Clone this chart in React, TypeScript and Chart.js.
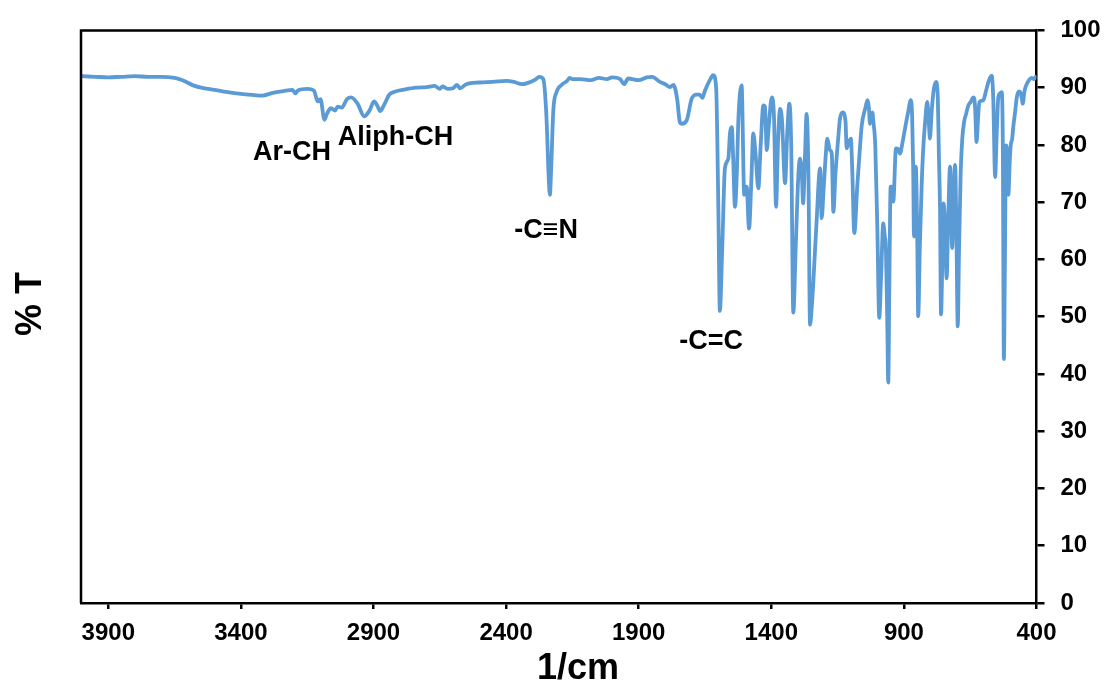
import React, { useEffect, useRef } from "react";
import { Chart, registerables } from "chart.js";

Chart.register(...registerables);

// Wavenumbers (1/cm) and transmittance (%T)
const wavenumbers: number[] = [
  4000, 3950, 3900, 3850, 3800, 3750, 3700, 3650, 3620, 3580, 3550, 3500, 3450, 3400, 3350, 3320,
  3280, 3240, 3205, 3195, 3185, 3150, 3125, 3110, 3100, 3085, 3075, 3060, 3045, 3035, 3020, 3000,
  2985, 2960, 2935, 2915, 2898, 2885, 2875, 2860, 2840, 2820, 2780, 2740, 2700, 2670, 2650, 2640,
  2620, 2600, 2585, 2574, 2550, 2500, 2450, 2400, 2370, 2340, 2320, 2290, 2275, 2260, 2248, 2240,
  2235, 2230, 2222, 2210, 2190, 2170, 2160, 2150, 2120, 2080, 2050, 2020, 2000, 1970, 1955, 1940,
  1900, 1870, 1850, 1820, 1800, 1782, 1769, 1755, 1745, 1738, 1719, 1700, 1681, 1670, 1660, 1650,
  1630, 1619, 1608, 1600, 1594, 1585, 1575, 1562, 1556, 1549, 1544, 1537, 1530, 1524, 1512,
  1502, 1493, 1484, 1475, 1468, 1459, 1449, 1440, 1430, 1424, 1417, 1410, 1398, 1390,
  1382, 1375, 1367, 1360, 1348, 1340, 1332, 1325, 1317, 1308, 1298, 1292, 1285, 1280, 1273, 1267,
  1260, 1254, 1247, 1242, 1230, 1216, 1210, 1203, 1195, 1189, 1179, 1172, 1166, 1158, 1148, 1141,
  1131, 1120, 1116, 1110, 1100, 1095, 1087, 1076, 1065, 1059, 1045, 1037, 1032, 1028, 1019, 1015,
  1008, 1000, 993, 986, 978, 972, 968, 963, 959, 955, 950, 946, 940, 930, 922, 915,
  905, 896, 885, 874, 869, 865, 862, 857, 855, 850, 846, 840, 833, 827, 820, 812,
  806, 802, 795, 788, 779, 772, 768, 764, 760, 755, 751, 745, 739, 733, 726, 722,
  718, 712, 707, 702, 697, 692, 686, 680, 673, 665, 657, 648, 638, 632, 626, 620,
  615, 601, 590, 580, 569, 563, 556, 550, 544, 537, 531, 527, 523, 519, 515, 510,
  506, 501, 497, 492, 487, 480, 475, 468, 462, 455, 452, 445, 437, 430, 418, 410,
  400,
];

const transmittance: number[] = [
  92.0, 91.9, 91.8, 91.9, 92.0, 91.9, 91.9, 91.7, 91.3, 90.4, 90.0, 89.6, 89.2, 88.9, 88.7, 88.6,
  89.1, 89.4, 89.6, 89.0, 89.5, 89.8, 89.5, 87.6, 88.0, 84.4, 85.5, 86.4, 86.0, 86.7, 86.5, 88.0,
  88.3, 87.2, 85.0, 86.0, 87.6, 86.8, 85.9, 87.0, 88.8, 89.3, 89.7, 90.0, 90.1, 90.3, 89.8, 90.2,
  89.8, 89.9, 90.5, 89.9, 90.6, 90.9, 91.0, 91.2, 91.0, 90.6, 90.8, 91.4, 91.9, 91.5, 85.0, 75.0,
  71.3, 76.0, 86.0, 89.2, 90.5, 91.2, 91.7, 91.5, 91.5, 91.3, 91.7, 91.5, 91.8, 91.5, 90.6, 91.6,
  91.3, 91.8, 91.9, 91.0, 90.6, 90.1, 90.5, 88.0, 84.0, 83.7, 84.3, 88.1, 88.8, 88.8, 88.2, 89.5,
  91.5, 92.2, 90.0, 70.0, 51.0, 62.0, 75.9, 77.6, 82.0, 83.1, 78.0, 69.2, 75.0, 84.6, 90.4,
  71.3, 72.7, 65.4, 74.0, 82.0, 78.2, 72.4, 80.0, 86.9, 86.7, 79.1, 83.0, 88.3, 85.0,
  69.2, 80.0, 86.3, 84.5, 73.3, 82.0, 87.2, 80.0, 50.7, 62.0, 74.7, 77.6, 75.0, 69.8, 78.0, 85.4,
  75.0, 48.6, 52.0, 55.6, 66.0, 75.9, 67.2, 72.0, 78.0, 81.1, 79.1, 78.5, 68.3, 75.0, 81.0, 84.6,
  85.7, 84.0, 79.4, 80.2, 81.1, 76.0, 64.6, 72.7, 80.0, 83.4, 86.5, 87.8, 86.5, 83.7, 85.7, 84.0,
  79.9, 65.0, 49.8, 57.0, 66.3, 64.0, 62.0, 50.0, 38.5, 55.0, 72.7, 72.7, 70.1, 79.4, 79.3, 78.5,
  80.5, 82.8, 85.5, 87.8, 85.0, 76.0, 64.0, 72.0, 76.2, 65.0, 50.1, 62.0, 73.0, 79.4, 84.0, 87.5,
  84.0, 81.1, 86.0, 89.5, 91.0, 88.0, 78.0, 69.5, 50.4, 60.0, 69.8, 66.0, 56.7, 67.0, 76.2, 70.0,
  62.0, 72.0, 76.5, 65.0, 48.3, 62.0, 75.0, 81.0, 84.0, 85.5, 86.9, 87.5, 88.3, 87.0, 80.5, 85.0,
  87.5, 87.8, 89.5, 91.2, 92.1, 88.0, 74.4, 82.0, 88.3, 89.0, 89.2, 80.0, 42.6, 60.0, 79.9, 78.0,
  71.3, 77.0, 80.0, 81.0, 83.4, 86.0, 88.1, 89.3, 89.3, 88.0, 87.2, 89.5, 90.6, 91.2, 91.7, 91.5,
  92.1,
];

const xTickValues: number[] = [3900, 3400, 2900, 2400, 1900, 1400, 900, 400];
const yTickMin = 0;
const yTickMax = 100;
const yTickStep = 10;

const annotationLabels: string[] = ["Ar-CH", "Aliph-CH", "-C≡N", "-C=C"];
const annotationWavenumbers: number[] = [3207, 2817, 2249, 1627];
const annotationLevels: number[] = [77.4, 79.9, 63.7, 44.3];

const xTitle = "1/cm";
const yTitle = "% T";

const W = 1109;
const H = 688;
const FONT = "'Liberation Sans', Arial, sans-serif";

export default function App() {
  const ref = useRef<HTMLCanvasElement | null>(null);

  useEffect(() => {
    if (!ref.current) return;
    const points = wavenumbers.map((x, i) => ({ x, y: transmittance[i] }));

    const decor = {
      id: "decor",
      afterDraw(chart: any) {
        const { ctx, chartArea } = chart;
        const xs = chart.scales.x;
        const ys = chart.scales.y;
        ctx.save();
        ctx.strokeStyle = "#000";
        ctx.lineWidth = 2.5;
        ctx.beginPath();
        ctx.moveTo(chartArea.right, chartArea.top);
        ctx.lineTo(chartArea.left, chartArea.top);
        ctx.lineTo(chartArea.left, chartArea.bottom);
        ctx.stroke();

        ctx.fillStyle = "#000";
        ctx.textAlign = "center";
        ctx.textBaseline = "alphabetic";
        ctx.font = `bold 27px ${FONT}`;
        annotationLabels.forEach((t, i) => {
          const px = xs.getPixelForValue(annotationWavenumbers[i]);
          const py = ys.getPixelForValue(annotationLevels[i]);
          ctx.fillText(t, px, py);
        });

        ctx.font = `bold 36px ${FONT}`;
        ctx.fillText(xTitle, 578, 679);

        ctx.translate(41, 304);
        ctx.rotate(-Math.PI / 2);
        ctx.textAlign = "center";
        ctx.fillText(yTitle, 0, 0);
        ctx.restore();
      },
    };

    const chart = new Chart(ref.current, {
      type: "line",
      data: {
        datasets: [
          {
            data: points,
            borderColor: "#5B9BD5",
            borderWidth: 3.8,
            pointRadius: 0,
            fill: false,
            cubicInterpolationMode: "monotone",
          },
        ],
      },
      options: {
        responsive: false,
        animation: false,
        devicePixelRatio: 1,
        layout: { padding: { left: 81, top: 28, right: 0, bottom: 0 } },
        plugins: { legend: { display: false }, tooltip: { enabled: false } },
        scales: {
          x: {
            type: "linear",
            reverse: true,
            min: 400,
            max: 4003,
            afterBuildTicks: (scale: any) => {
              scale.ticks = xTickValues.map((v) => ({ value: v }));
            },
            afterFit: (scale: any) => {
              scale.height = H - 603;
            },
            border: { display: true, color: "#000", width: 2.5 },
            grid: {
              display: true,
              drawOnChartArea: false,
              drawTicks: true,
              tickLength: 6,
              color: "#000",
              lineWidth: 2.5,
            },
            ticks: {
              color: "#000",
              font: { family: FONT, size: 24, weight: "bold" },
              padding: 10,
              maxRotation: 0,
              autoSkip: false,
              callback: (v: any) => String(v),
            },
          },
          y: {
            type: "linear",
            position: "right",
            min: yTickMin,
            max: yTickMax,
            afterFit: (scale: any) => {
              scale.width = W - 1036.5;
            },
            border: { display: true, color: "#000", width: 2.5 },
            grid: {
              display: true,
              drawOnChartArea: false,
              drawTicks: true,
              tickLength: 8,
              color: "#000",
              lineWidth: 2.5,
            },
            ticks: {
              stepSize: yTickStep,
              color: "#000",
              font: { family: FONT, size: 24, weight: "bold" },
              padding: 16,
            },
          },
        },
      },
      plugins: [decor],
    } as any);

    return () => chart.destroy();
  }, []);

  return (
    <div style={{ position: "absolute", left: 0, top: 0, width: W, height: H, background: "#fff" }}>
      <canvas ref={ref} width={W} height={H} style={{ display: "block", width: W, height: H }} />
    </div>
  );
}
